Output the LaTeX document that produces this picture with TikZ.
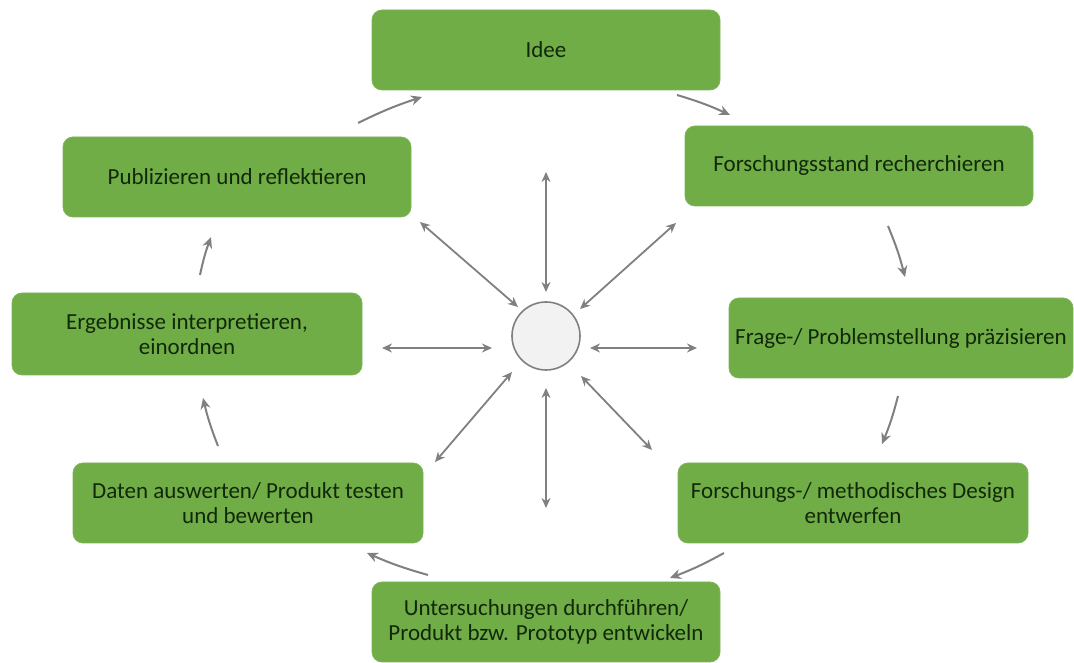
\documentclass[tikz,border=0pt]{standalone}
\usepackage{fontspec}
\setmainfont{Carlito}
\usetikzlibrary{arrows.meta}
\definecolor{boxgreen}{RGB}{112,173,71}
\definecolor{txtgreen}{RGB}{18,40,10}
\definecolor{arrgray}{RGB}{128,128,128}
\definecolor{circfill}{RGB}{242,242,242}
\tikzset{
  stepbox/.style={rectangle, rounded corners=10pt, fill=boxgreen, draw=boxgreen!90!white, line width=0.8pt,
    minimum width=348pt, minimum height=80pt, align=center, text=txtgreen,
    font=\fontsize{23}{25}\selectfont, inner sep=0pt},
  spoke/.style={arrgray, line width=1.8pt, {Stealth[length=10pt,width=9pt]}-{Stealth[length=10pt,width=9pt]}},
  cyc/.style={arrgray, line width=2pt, -{Stealth[length=11pt,width=10pt]}}
}
\begin{document}
\begin{tikzpicture}[x=1pt,y=1pt]
\useasboundingbox (0,0) rectangle (1074,663);
% boxes
\node[stepbox] (idee)   at (546,613) {Idee};
\node[stepbox] (forsch) at (859,497) {Forschungsstand recherchieren};
\node[stepbox, minimum width=344pt] (frage)  at (901,325) {Frage-/ Problemstellung präzisieren};
\node[stepbox, minimum width=350pt] (design) at (853,160) {Forschungs-/ methodisches Design\\entwerfen};
\node[stepbox] (unters) at (546,41) {Untersuchungen durchführen/\\Produkt bzw. Prototyp entwickeln};
\node[stepbox, minimum width=350pt] (daten)  at (248,160) {Daten auswerten/ Produkt testen\\und bewerten};
\node[stepbox, minimum width=350pt, minimum height=82pt] (ergeb)  at (187,329) {Ergebnisse interpretieren,\\einordnen};
\node[stepbox] (publ)   at (237,486) {Publizieren und reflektieren};
% centre circle
\node[circle, minimum size=68pt, inner sep=0pt, fill=circfill, draw=arrgray, line width=1.6pt] (ctr) at (546,327) {};
% spoke end points
\coordinate (sUa) at (546,371); \coordinate (sUb) at (546,491);
\coordinate (sDa) at (546,275); \coordinate (sDb) at (546,155);
\coordinate (sLa) at (492,315); \coordinate (sLb) at (382,315);
\coordinate (sRa) at (590,315); \coordinate (sRb) at (697,315);
\coordinate (sULa) at (518,356); \coordinate (sULb) at (420,441);
\coordinate (sURa) at (580,354); \coordinate (sURb) at (676,440);
\coordinate (sLLa) at (512,291); \coordinate (sLLb) at (435,201);
\coordinate (sLRa) at (581,287); \coordinate (sLRb) at (652,213);
\draw[spoke] (sUa) -- (sUb);
\draw[spoke] (sDa) -- (sDb);
\draw[spoke] (sLa) -- (sLb);
\draw[spoke] (sRa) -- (sRb);
\draw[spoke] (sULa) -- (sULb);
\draw[spoke] (sURa) -- (sURb);
\draw[spoke] (sLLa) -- (sLLb);
\draw[spoke] (sLRa) -- (sLRb);
% cycle arrow end points
\coordinate (c1a) at (677,568); \coordinate (c1b) at (730,548);
\coordinate (c2a) at (888,437); \coordinate (c2b) at (905,386);
\coordinate (c3a) at (898,267); \coordinate (c3b) at (882,219);
\coordinate (c4a) at (724,110); \coordinate (c4b) at (670,85);
\coordinate (c5a) at (428,88);  \coordinate (c5b) at (367,110);
\coordinate (c6a) at (218,217); \coordinate (c6b) at (203,265);
\coordinate (c7a) at (200,388); \coordinate (c7b) at (211,426);
\coordinate (c8a) at (358,540); \coordinate (c8b) at (422,566);
\draw[cyc] (c1a) to[bend left=4] (c1b);
\draw[cyc] (c2a) to[bend left=4] (c2b);
\draw[cyc] (c3a) to[bend left=4] (c3b);
\draw[cyc] (c4a) to[bend left=4] (c4b);
\draw[cyc] (c5a) to[bend left=4] (c5b);
\draw[cyc] (c6a) to[bend left=4] (c6b);
\draw[cyc] (c7a) to[bend left=4] (c7b);
\draw[cyc] (c8a) to[bend left=4] (c8b);
\end{tikzpicture}
\end{document}
